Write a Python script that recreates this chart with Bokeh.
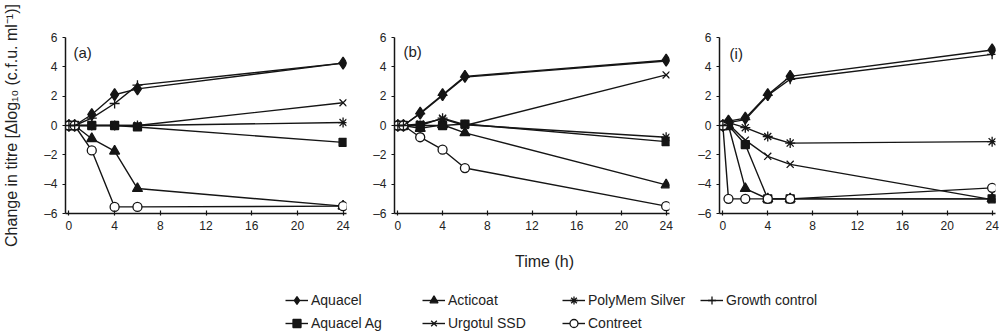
from bokeh.plotting import figure
from bokeh.layouts import row, column
from bokeh.models import Range1d, Label, Legend, LegendItem, FixedTicker
from bokeh.embed import file_html
from bokeh.resources import INLINE

# ---------------- data ----------------
time_h = [0, 0.5, 2, 4, 6, 24]

# panel (a)
aquacel_a    = [0, 0, 0.75, 2.1, 2.5, 4.25]
aquacel_ag_a = [0, 0, 0, 0, -0.1, -1.15]
acticoat_a   = [0, 0, -0.9, -1.75, -4.3, -5.5]
urgotul_a    = [0, 0, 0, 0, 0, 1.55]
polymem_a    = [0, 0, 0, 0, 0, 0.2]
contreet_a   = [0, 0, -1.7, -5.55, -5.55, -5.5]
growth_a     = [0, 0, 0.5, 1.5, 2.75, 4.25]

# panel (b)
aquacel_b    = [0, 0, 0.85, 2.1, 3.35, 4.45]
aquacel_ag_b = [0, 0, 0, 0, 0.1, -1.1]
acticoat_b   = [0, 0, -0.2, 0.05, -0.5, -4.05]
urgotul_b    = [0, 0, 0.1, 0.45, 0, 3.45]
polymem_b    = [0, 0, 0, 0.5, 0.05, -0.8]
contreet_b   = [0, 0, -0.8, -1.65, -2.9, -5.5]
growth_b     = [0, 0, 0.8, 2.05, 3.3, 4.4]

# panel (i)
aquacel_i    = [0, 0.3, 0.5, 2.1, 3.35, 5.15]
aquacel_ag_i = [0, 0, -1.3, -5.0, -5.0, -5.0]
acticoat_i   = [0, 0, -4.3, -5.0, -5.0, -5.0]
urgotul_i    = [0, 0.1, -1.0, -2.1, -2.65, -5.05]
polymem_i    = [0, 0.2, -0.15, -0.75, -1.2, -1.1]
contreet_i   = [0, -5.0, -5.0, -5.0, -5.0, -4.25]
growth_i     = [0, 0.2, 0.4, 2.05, 3.15, 4.85]

series_names = ["Aquacel", "Aquacel Ag", "Acticoat", "Urgotul SSD",
                "PolyMem Silver", "Contreet", "Growth control"]
panel_labels = ["(a)", "(b)", "(i)"]
x_ticks = [0, 4, 8, 12, 16, 20, 24]
y_ticks = [-6, -4, -2, 0, 2, 4, 6]
y_tick_labels = ["\u20136", "\u20134", "\u20132", "0", "2", "4", "6"]

panel_data = [
    [aquacel_a, aquacel_ag_a, acticoat_a, urgotul_a, polymem_a, contreet_a, growth_a],
    [aquacel_b, aquacel_ag_b, acticoat_b, urgotul_b, polymem_b, contreet_b, growth_b],
    [aquacel_i, aquacel_ag_i, acticoat_i, urgotul_i, polymem_i, contreet_i, growth_i],
]

# ---------------- style ----------------
FONT = "Liberation Sans"
INK = "#151515"
LW = 1.4
styles = {
    "Aquacel":        dict(marker="diamond", size=12, fill=INK),
    "Aquacel Ag":     dict(marker="square", size=8, fill=INK),
    "Acticoat":       dict(marker="triangle", size=10, fill=INK),
    "Urgotul SSD":    dict(marker="x", size=10, fill=INK),
    "PolyMem Silver": dict(marker="asterisk", size=10, fill=INK),
    "Contreet":       dict(marker="circle", size=9, fill="white"),
    "Growth control": dict(marker="cross", size=10, fill=INK),
}

# layout per panel
geom = [
    dict(width=370, left=65, right=24, top=37, fh=177, lab=(0.4, 4.95)),
    dict(width=325, left=24, right=26, top=37, fh=177, lab=(0.5, 5.05)),
    dict(width=304, left=23, right=4, top=34, fh=179, lab=(0.6, 4.9)),
]
TOP_H = 250
PAD = 0.3

figs = []
for k, (g, data) in enumerate(zip(geom, panel_data)):
    p = figure(width=g["width"], height=TOP_H, output_backend="svg", toolbar_location=None,
               x_range=Range1d(-PAD, 24 + PAD), y_range=Range1d(-6, 6),
               min_border_left=g["left"], min_border_right=g["right"],
               min_border_top=g["top"], min_border_bottom=TOP_H - g["top"] - g["fh"])
    p.outline_line_color = None
    p.grid.visible = False
    p.background_fill_color = "white"
    p.border_fill_color = "white"

    for ax in (p.xaxis[0], p.yaxis[0]):
        ax.axis_line_color = INK
        ax.axis_line_width = 1.5
        ax.major_tick_line_color = INK
        ax.major_tick_line_width = 1.2
        ax.minor_tick_line_color = None
        ax.major_label_text_font = FONT
        ax.major_label_text_font_size = "12px"
        ax.major_label_text_color = "#222222"

    p.xaxis.ticker = FixedTicker(ticks=x_ticks)
    p.xaxis.major_tick_in = 3
    p.xaxis.major_tick_out = 2
    p.xaxis.major_label_standoff = 5

    p.yaxis.ticker = FixedTicker(ticks=y_ticks)
    p.yaxis.major_label_overrides = {t: s for t, s in zip(y_ticks, y_tick_labels)}
    p.yaxis.major_tick_in = 0
    p.yaxis.major_tick_out = 3
    p.yaxis.major_label_standoff = 5

    if k == 0:
        p.yaxis.axis_label = "Change in titre [\u0394log\u2081\u2080 (c.f.u. ml\u207b\u00b9)]"
        p.yaxis.axis_label_text_font = FONT
        p.yaxis.axis_label_text_font_size = "16px"
        p.yaxis.axis_label_text_font_style = "normal"
        p.yaxis.axis_label_text_color = "#222222"
        p.yaxis.axis_label_standoff = 21

    for name, ys in zip(series_names, data):
        st = styles[name]
        p.line(time_h, ys, line_color=INK, line_width=LW)
        p.scatter(time_h, ys, marker=st["marker"], size=st["size"],
                  line_color=INK, fill_color=st["fill"], line_width=1.3)

    lx, ly = g["lab"]
    p.add_layout(Label(x=lx, y=ly, text=panel_labels[k], text_font=FONT,
                       text_font_size="15px", text_color="#222222",
                       text_baseline="middle", text_align="left"))
    figs.append(p)

# ---------------- legend / x label strip ----------------
LEG_H = 335 - TOP_H
fl = figure(width=999, height=LEG_H, output_backend="svg", toolbar_location=None,
            x_range=Range1d(0, 999), y_range=Range1d(0, LEG_H),
            x_axis_type=None, y_axis_type=None,
            min_border_left=0, min_border_right=0, min_border_top=0, min_border_bottom=0)
fl.outline_line_color = None
fl.grid.visible = False

fl.add_layout(Label(x=544, y=LEG_H - 11, text="Time (h)", text_font=FONT,
                    text_font_size="16px", text_color="#222222",
                    text_align="center", text_baseline="middle"))

NAN = float("nan")
items = {}
for name in series_names:
    st = styles[name]
    r1 = fl.line(x=[NAN, NAN], y=[NAN, NAN], line_color=INK, line_width=LW)
    r2 = fl.scatter(x=[NAN], y=[NAN], marker=st["marker"], size=st["size"],
                    line_color=INK, fill_color=st["fill"], line_width=1.3)
    items[name] = LegendItem(label=name, renderers=[r1, r2])

legend_cols = [["Aquacel", "Aquacel Ag"], ["Acticoat", "Urgotul SSD"],
               ["PolyMem Silver", "Contreet"], ["Growth control"]]
legend_x = [285, 422, 562, 700]
for names, lx in zip(legend_cols, legend_x):
    ypos = 2 if len(names) == 2 else 25
    leg = Legend(items=[items[n] for n in names], location=(lx, ypos),
                 orientation="vertical", padding=0, margin=0, spacing=3,
                 glyph_width=23, glyph_height=20, label_height=20,
                 label_standoff=3, label_text_font=FONT, label_text_font_size="14px",
                 label_text_color="#222222", border_line_color=None,
                 background_fill_alpha=0)
    fl.add_layout(leg)

layout = column(row(*figs, spacing=0), fl, spacing=0)
open("out.html", "w").write(file_html(layout, INLINE))
